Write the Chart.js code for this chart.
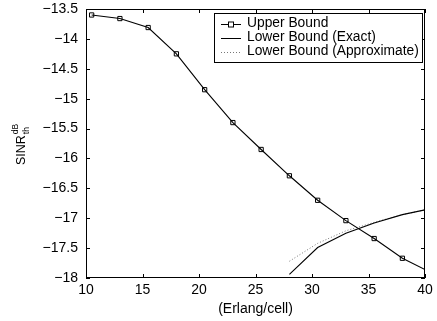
<!DOCTYPE html>
<html lang="en">
<head>
    <meta charset="UTF-8">
    <title>SINR threshold bounds</title>
    <script src="https://cdnjs.cloudflare.com/ajax/libs/Chart.js/4.4.0/chart.umd.min.js"></script>
    <style>
        * { margin: 0; padding: 0; box-sizing: border-box; }
        body { background: #fff; width: 437px; height: 321px; overflow: hidden; }
        #wrap { width: 437px; height: 321px; }
    </style>
</head>
<body>
    <div id="wrap"><canvas id="sinrChart" width="437" height="321"></canvas></div>

    <script>
        // traffic load (Erlang/cell)
        const upperX = [10.5, 13, 15.5, 18, 20.5, 23, 25.5, 28, 30.5, 33, 35.5, 38, 40];
        const upperBound = [-13.60, -13.66, -13.81, -14.25, -14.85, -15.40, -15.85, -16.29, -16.70, -17.04, -17.34, -17.67, -17.86];

        const lowerX = [28, 30.5, 33, 35.5, 38, 40];
        const lowerExact = [-17.94, -17.49, -17.25, -17.08, -16.94, -16.86];
        const lowerApprox = [-17.72, -17.42, -17.21, -17.07, -16.94, -16.86];

        const xTicks = [10, 15, 20, 25, 30, 35, 40];
        const yTicks = [-18, -17.5, -17, -16.5, -16, -15.5, -15, -14.5, -14, -13.5];

        const seriesNames = ['Upper Bound', 'Lower Bound (Exact)', 'Lower Bound (Approximate)'];

        const FONT = 'Arial, "Liberation Sans", sans-serif';

        function toPoints(xs, ys) {
            return xs.map((x, i) => ({ x: x, y: ys[i] }));
        }

        function fmt(v) {
            return (v < 0 ? '\u2212' : '') + String(Math.abs(v));
        }

        // frame, inward ticks, y title, boxed legend (matlab look)
        const matlabFrame = {
            id: 'matlabFrame',
            afterDraw(chart) {
                const ctx = chart.ctx;
                const a = chart.chartArea;
                const xs = chart.scales.x, ys = chart.scales.y;
                ctx.save();
                ctx.strokeStyle = '#000';
                ctx.lineWidth = 1;
                ctx.strokeRect(Math.round(a.left) + 0.5, Math.round(a.top) + 0.5,
                    Math.round(a.right - a.left) - 1, Math.round(a.bottom - a.top) - 1);

                const tl = 4;
                ctx.beginPath();
                xTicks.forEach(t => {
                    const px = Math.round(xs.getPixelForValue(t)) + 0.5;
                    ctx.moveTo(px, a.bottom); ctx.lineTo(px, a.bottom - tl);
                    ctx.moveTo(px, a.top); ctx.lineTo(px, a.top + tl);
                });
                yTicks.forEach(t => {
                    const py = Math.round(ys.getPixelForValue(t)) + 0.5;
                    ctx.moveTo(a.left, py); ctx.lineTo(a.left + tl, py);
                    ctx.moveTo(a.right, py); ctx.lineTo(a.right - tl, py);
                });
                ctx.stroke();

                // y axis title: SINR_th^dB
                ctx.translate(25, 165);
                ctx.rotate(-Math.PI / 2);
                ctx.fillStyle = '#000';
                ctx.textBaseline = 'alphabetic';
                ctx.textAlign = 'left';
                ctx.font = '12.5px ' + FONT;
                ctx.fillText('SINR', 0, 0);
                const w = ctx.measureText('SINR').width;
                ctx.font = '8.5px ' + FONT;
                ctx.fillText('dB', w + 1, -7);
                ctx.fillText('th', w + 1, 4);
                ctx.restore();

                // legend box
                const lx = 214, ly = 13, lw = 208, lh = 49;
                ctx.save();
                ctx.fillStyle = '#fff';
                ctx.fillRect(lx, ly, lw, lh);
                ctx.strokeStyle = '#000';
                ctx.lineWidth = 1;
                ctx.strokeRect(lx + 0.5, ly + 0.5, lw, lh);
                ctx.font = '13.8px ' + FONT;
                ctx.textBaseline = 'middle';
                ctx.fillStyle = '#000';
                chart.data.datasets.forEach((ds, i) => {
                    const cy = ly + 10.5 + i * 14;
                    ctx.strokeStyle = ds.borderColor;
                    ctx.setLineDash(ds.borderDash || []);
                    ctx.beginPath();
                    ctx.moveTo(221, Math.round(cy) + 0.5);
                    ctx.lineTo(241, Math.round(cy) + 0.5);
                    ctx.stroke();
                    ctx.setLineDash([]);
                    if (i === 0) {
                        ctx.fillStyle = '#fff';
                        ctx.fillRect(228.5, Math.round(cy) - 2, 5, 5);
                        ctx.strokeRect(228.5, Math.round(cy) - 2, 5, 5);
                    }
                    ctx.fillStyle = '#000';
                    ctx.fillText(seriesNames[i], 247, cy);
                });
                ctx.restore();
            }
        };

        const ctx = document.getElementById('sinrChart').getContext('2d');

        new Chart(ctx, {
            type: 'line',
            data: {
                datasets: [{
                    label: seriesNames[0],
                    data: toPoints(upperX, upperBound),
                    borderColor: '#000',
                    borderWidth: 1.1,
                    pointStyle: 'rect',
                    pointRadius: upperX.map((x, i) => i === upperX.length - 1 ? 0 : 3),
                    pointBorderColor: '#000',
                    pointBackgroundColor: 'rgba(255,255,255,0)',
                    pointBorderWidth: 1,
                    tension: 0,
                    order: 0
                }, {
                    label: seriesNames[1],
                    data: toPoints(lowerX, lowerExact),
                    borderColor: '#000',
                    borderWidth: 1.1,
                    pointRadius: 0,
                    tension: 0,
                    order: 1
                }, {
                    label: seriesNames[2],
                    data: toPoints(lowerX, lowerApprox),
                    borderColor: '#777',
                    borderWidth: 1,
                    borderDash: [1, 2],
                    pointRadius: 0,
                    tension: 0,
                    order: 2
                }]
            },
            options: {
                responsive: false,
                animation: false,
                layout: { padding: { left: 0, top: 9, right: 12, bottom: 0 } },
                plugins: {
                    legend: { display: false },
                    tooltip: { enabled: false }
                },
                scales: {
                    x: {
                        type: 'linear',
                        min: 10,
                        max: 40,
                        afterBuildTicks: s => { s.ticks = xTicks.map(v => ({ value: v })); },
                        afterFit: s => { s.height = 43; s.paddingLeft = 0; s.paddingRight = 0; },
                        grid: { display: false, drawTicks: false },
                        border: { display: false },
                        ticks: {
                            color: '#000',
                            padding: 4,
                            maxRotation: 0,
                            font: { family: FONT, size: 14 },
                            callback: v => fmt(v)
                        },
                        title: {
                            display: true,
                            text: '(Erlang/cell)',
                            color: '#000',
                            padding: { top: 0, bottom: 3 },
                            font: { family: FONT, size: 14 }
                        }
                    },
                    y: {
                        type: 'linear',
                        min: -18,
                        max: -13.5,
                        afterBuildTicks: s => { s.ticks = yTicks.map(v => ({ value: v })); },
                        afterFit: s => { s.width = 86; s.paddingTop = 0; s.paddingBottom = 0; },
                        grid: { display: false, drawTicks: false },
                        border: { display: false },
                        ticks: {
                            color: '#000',
                            padding: 8,
                            font: { family: FONT, size: 14 },
                            callback: v => fmt(v)
                        }
                    }
                }
            },
            plugins: [matlabFrame]
        });
    </script>
</body>
</html>
